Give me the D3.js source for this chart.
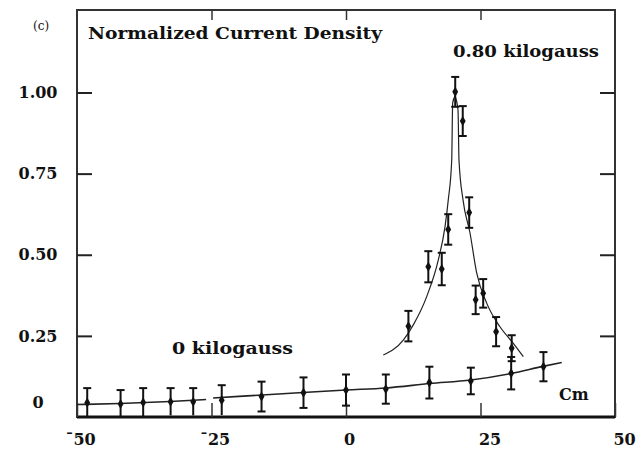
<!DOCTYPE html>
<html>
<head>
<meta charset="utf-8">
<script src="https://cdn.jsdelivr.net/npm/d3@7"></script>
<style>
  body { margin: 0; background: #fff; }
  text { font-family: "DejaVu Serif", serif; fill: #111; }
</style>
</head>
<body>
<svg id="chart"></svg>
<script>
// data (x in cm, y normalized current density)
var xTicks = [-50, -25, 0, 25, 50];
var yTicks = [0, 0.25, 0.5, 0.75, 1];

// 0 kilogauss points
var x0 = [-48.1, -41.9, -37.7, -32.6, -28.4, -23.1, -15.7, -7.9, 0, 7.4, 15.5, 23.2, 30.7, 36.7];
var y0 = [0.044, 0.040, 0.045, 0.047, 0.047, 0.052, 0.063, 0.075, 0.083, 0.086, 0.106, 0.111, 0.135, 0.155];
var e0 = [0.045, 0.043, 0.044, 0.042, 0.042, 0.046, 0.046, 0.047, 0.048, 0.045, 0.049, 0.041, 0.05, 0.045];

// 0.80 kilogauss points
var x80 = [11.6, 15.3, 17.8, 19.0, 20.3, 21.7, 22.9, 24.1, 25.5, 27.9, 30.8];
var y80 = [0.280, 0.463, 0.456, 0.578, 1.002, 0.912, 0.630, 0.361, 0.381, 0.263, 0.212];
var e80 = [0.047, 0.048, 0.05, 0.047, 0.046, 0.046, 0.047, 0.044, 0.044, 0.045, 0.04];

// fitted curves (traced)
var fit0aX = [-50, -42.0, -32.7, -26.0];
var fit0aY = [0.0385, 0.0416, 0.0478, 0.054];
var fit0bX = [-24.7, -15.6, -8.0, 0, 7.4, 15.6, 23.2, 30.7, 36.6, 40.1];
var fit0bY = [0.0586, 0.0678, 0.0755, 0.0832, 0.0894, 0.103, 0.114, 0.134, 0.156, 0.168];
var fitLX = [6.93, 10.65, 12.51, 15.0, 17.16, 18.40, 19.01, 19.65, 19.83, 20.26];
var fitLY = [0.191, 0.237, 0.284, 0.371, 0.484, 0.586, 0.669, 0.792, 0.968, 0.989];
var fitRX = [20.26, 20.82, 21.0, 21.75, 23.05, 24.29, 26.15, 28.62, 31.10, 32.96];
var fitRY = [0.989, 0.946, 0.792, 0.669, 0.567, 0.444, 0.351, 0.278, 0.227, 0.186];

var width = 642, height = 453;
var pLeft = 77, pRight = 615, pTop = 10, pBottom = 417;

var svg = d3.select("#chart").attr("width", width).attr("height", height);

var x = d3.scaleLinear().domain([-50, 50]).range([pLeft, pRight]);
var y = d3.scaleLinear().domain([0, 1]).range([pBottom, 92.5]);

// frame
svg.append("rect")
  .attr("x", pLeft).attr("y", pTop)
  .attr("width", pRight - pLeft).attr("height", pBottom - pTop)
  .attr("fill", "none").attr("stroke", "#333").attr("stroke-width", 2);
svg.append("line")
  .attr("x1", pLeft).attr("x2", pRight).attr("y1", pBottom).attr("y2", pBottom)
  .attr("stroke", "#111").attr("stroke-width", 3);

// axes
var xAxis = svg.append("g")
  .attr("transform", "translate(0," + pBottom + ")")
  .call(d3.axisBottom(x).tickValues(xTicks).tickSizeInner(-14).tickSizeOuter(0).tickPadding(17)
    .tickFormat(function (d) { return d < 0 ? "\u00AF" + Math.abs(d) : d; }));
xAxis.select(".domain").remove();
xAxis.selectAll("line").attr("stroke", "#333").attr("stroke-width", 1.5);
//labels in the scan sit a little right of their ticks on the right half
xAxis.selectAll("text").attr("dx", function (d) { return d >= 25 ? 9 : 3; })
  .style("font-size", "16px").style("font-weight", "bold")
  .style("font-family", "DejaVu Serif").attr("fill", "#111");

svg.append("g")
  .attr("transform", "translate(0," + pTop + ")")
  .call(d3.axisTop(x).tickValues(xTicks.slice(1, -1)).tickSizeInner(-10).tickSizeOuter(0).tickFormat(""))
  .call(function (g) { g.select(".domain").remove(); g.selectAll("line").attr("stroke", "#333").attr("stroke-width", 1.5); });

var yAxis = svg.append("g")
  .attr("transform", "translate(" + pLeft + ",0)")
  .call(d3.axisLeft(y).tickValues(yTicks).tickSizeInner(-15).tickSizeOuter(0)
    .tickFormat(function (d) { return d === 0 ? "0" : d3.format(".2f")(d); }));
yAxis.select(".domain").remove();
yAxis.selectAll("line").attr("stroke", "#222").attr("stroke-width", 2)
  .style("display", function (d) { return d === 0 ? "none" : null; });
yAxis.selectAll("text")
  .attr("text-anchor", "middle").attr("x", -39)
  .attr("y", function (d) { return d === 0 ? -15 : 0; })
  .style("font-size", "16px").style("font-weight", "bold")
  .style("font-family", "DejaVu Serif").attr("fill", "#111");

svg.append("g")
  .attr("transform", "translate(" + pRight + ",0)")
  .call(d3.axisRight(y).tickValues(yTicks.slice(1)).tickSizeInner(-15).tickSizeOuter(0).tickFormat(""))
  .call(function (g) { g.select(".domain").remove(); g.selectAll("line").attr("stroke", "#222").attr("stroke-width", 2); });

// fitted curves
var line = d3.line()
  .x(function (d) { return x(d[0]); })
  .y(function (d) { return y(d[1]); })
  .curve(d3.curveMonotoneX);

[[fit0aX, fit0aY, 1.6], [fit0bX, fit0bY, 1.6], [fitLX, fitLY, 1.2], [fitRX, fitRY, 1.2]].forEach(function (f) {
  svg.append("path")
    .datum(d3.zip(f[0], f[1]))
    .attr("d", line)
    .attr("fill", "none")
    .attr("stroke", "#222")
    .attr("stroke-width", f[2]);
});

// error bars + markers
function drawSeries(xs, ys, es) {
  var data = xs.map(function (v, i) { return { x: v, y: ys[i], e: es[i] }; });
  var g = svg.append("g").selectAll("g").data(data).enter().append("g");
  g.append("line")
    .attr("x1", function (d) { return x(d.x); }).attr("x2", function (d) { return x(d.x); })
    .attr("y1", function (d) { return Math.min(y(d.y - d.e), pBottom); })
    .attr("y2", function (d) { return y(d.y + d.e); })
    .attr("stroke", "#111").attr("stroke-width", 2);
  [1, -1].forEach(function (s) {
    g.filter(function (d) { return y(d.y - s * d.e) < pBottom - 2; })
      .append("line")
      .attr("x1", function (d) { return x(d.x) - 4; }).attr("x2", function (d) { return x(d.x) + 4; })
      .attr("y1", function (d) { return y(d.y - s * d.e); }).attr("y2", function (d) { return y(d.y - s * d.e); })
      .attr("stroke", "#111").attr("stroke-width", 2);
  });
  g.append("path")
    .attr("d", d3.symbol().type(d3.symbolDiamond).size(30))
    .attr("transform", function (d) { return "translate(" + x(d.x) + "," + y(d.y) + ")"; })
    .attr("fill", "#111");
}
drawSeries(x0, y0, e0);
drawSeries(x80, y80, e80);

// labels
svg.append("text").attr("x", 33).attr("y", 30).style("font-size", "12px").text("(c)");
svg.append("text").attr("x", 88).attr("y", 39)
  .attr("textLength", 294).attr("lengthAdjust", "spacingAndGlyphs")
  .style("font-size", "16px").style("font-weight", "bold").text("Normalized Current Density");
svg.append("text").attr("x", 453).attr("y", 57)
  .attr("textLength", 146).attr("lengthAdjust", "spacingAndGlyphs")
  .style("font-size", "16px").style("font-weight", "bold").text("0.80 kilogauss");
svg.append("text").attr("x", 172).attr("y", 354)
  .attr("textLength", 121).attr("lengthAdjust", "spacingAndGlyphs")
  .style("font-size", "16px").style("font-weight", "bold").text("0 kilogauss");
svg.append("text").attr("x", 559).attr("y", 400)
  .style("font-size", "16px").style("font-weight", "bold").text("Cm");
</script>
</body>
</html>
